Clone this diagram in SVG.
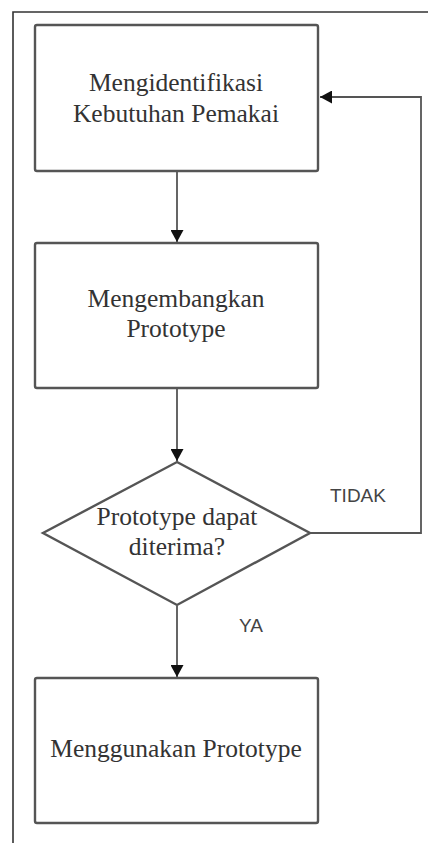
<svg xmlns="http://www.w3.org/2000/svg" width="428" height="843" viewBox="0 0 428 843">
<style>
.box{fill:#fff;stroke:#555;stroke-width:2.4}
.t{font-family:"Liberation Serif","Times New Roman",serif;font-size:25.5px;fill:#333;text-anchor:middle}
.lbl{font-family:"Liberation Sans",Arial,sans-serif;font-size:19px;fill:#444}
.conn{fill:none;stroke:#555;stroke-width:1.8}
</style>
<defs>
<marker id="ah" markerWidth="13" markerHeight="13" refX="12" refY="6.5" orient="auto" markerUnits="userSpaceOnUse">
<path d="M0,0 L12,6.5 L0,13 Z" fill="#111"/>
</marker>
</defs>
<rect width="428" height="843" fill="#fff"/>
<path d="M13,843 V12 H428" fill="none" stroke="#333" stroke-width="1.6"/>
<g id="n1">
<rect class="box" x="35" y="25" width="283" height="146" rx="2"/>
<text class="t" x="176" y="91">Mengidentifikasi</text>
<text class="t" x="176" y="122">Kebutuhan Pemakai</text>
</g>
<g id="n2">
<rect class="box" x="35" y="243" width="283" height="145" rx="2"/>
<text class="t" x="176" y="307">Mengembangkan</text>
<text class="t" x="176" y="337">Prototype</text>
</g>
<g id="n3">
<polygon class="box" points="177,462 310,533 177,605 43,533"/>
<text class="t" x="177" y="525">Prototype dapat</text>
<text class="t" x="177" y="555">diterima?</text>
</g>
<g id="n4">
<rect class="box" x="35" y="678" width="283" height="145" rx="2"/>
<text class="t" x="176" y="757">Menggunakan Prototype</text>
</g>
<g id="connectors">
<line class="conn" x1="177" y1="172" x2="177" y2="242" marker-end="url(#ah)"/>
<line class="conn" x1="177" y1="389" x2="177" y2="461" marker-end="url(#ah)"/>
<line class="conn" x1="177" y1="606" x2="177" y2="677" marker-end="url(#ah)"/>
<path class="conn" d="M310,533 H421 V97 H320" marker-end="url(#ah)"/>
<text class="lbl" x="330" y="502">TIDAK</text>
<text class="lbl" x="239" y="632">YA</text>
</g>
</svg>
